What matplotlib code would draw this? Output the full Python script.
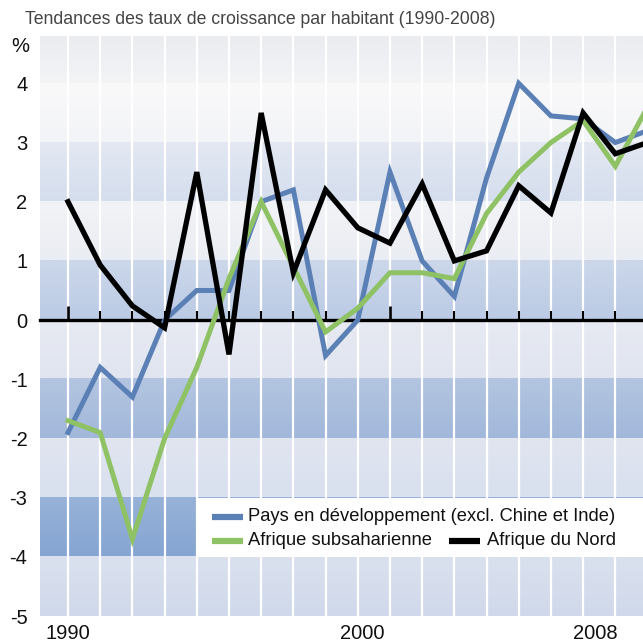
import matplotlib
matplotlib.use('Agg')
import matplotlib.pyplot as plt
import matplotlib.colors as mcolors
import numpy as np

plt.rcParams['font.family'] = ['Liberation Sans', 'DejaVu Sans']

# Data (growth rate per capita, %)
years = list(range(1990, 2009))
developing = [-1.9, -0.8, -1.3, 0.0, 0.5, 0.5, 2.0, 2.2, -0.6, 0.0,
              2.5, 1.0, 0.4, 2.4, 4.0, 3.45, 3.4, 3.0, 3.2]
ssa = [-1.7, -1.9, -3.7, -2.0, -0.8, 0.7, 2.0, 0.9, -0.2, 0.2,
       0.8, 0.8, 0.7, 1.8, 2.5, 3.0, 3.37, 2.6, 3.6]
north_africa = [2.0, 0.93, 0.24, -0.13, 2.5, -0.58, 3.5, 0.8, 2.2, 1.56,
                1.3, 2.3, 1.0, 1.17, 2.27, 1.81, 3.5, 2.81, 3.0]

labels = ['Pays en développement (excl. Chine et Inde)',
          'Afrique subsaharienne', 'Afrique du Nord']
colors = {'dev': '#5b80b6', 'ssa': '#8fc165', 'na': '#000000'}

# background bands (low, high, top colour, bottom colour)
bands = [
    (4, 4.8, '#ebecf0', '#f3f4f6'),
    (3, 4, '#f9f9fa', '#f3f4f7'),
    (2, 3, '#e3e8f2', '#d5deee'),
    (1, 2, '#f2f3f6', '#eaedf3'),
    (0, 1, '#ccd7ea', '#bbcbe5'),
    (-1, 0, '#e7eaf2', '#e1e5f0'),
    (-2, -1, '#b3c5e0', '#a2b8db'),
    (-3, -2, '#e0e5f0', '#d9e0ee'),
    (-4, -3, '#97b2d8', '#85a5d2'),
    (-5, -4, '#dae1ee', '#d0d9eb'),
]

fig = plt.figure(figsize=(6.43, 6.44), dpi=100)
ax = fig.add_axes([40 / 643, 28 / 644, 603 / 643, 580 / 644])
x0, x1 = 1989.13, 2007.86
ax.set_xlim(x0, x1)
ax.set_ylim(-5, 4.8)

for lo, hi, ctop, cbot in bands:
    c1 = np.array(mcolors.to_rgb(ctop))
    c2 = np.array(mcolors.to_rgb(cbot))
    t = np.linspace(0, 1, 32)[:, None]
    grad = (c1 * (1 - t) + c2 * t)[:, None, :]
    ax.imshow(grad, extent=[x0, x1, lo, hi], aspect='auto', origin='upper',
              interpolation='bilinear', zorder=0)

# white vertical gridlines
for yr in years[:-1]:
    ax.axvline(yr, color='white', lw=1.6, zorder=1)

# legend box (white, covers the -3/-4 band from 1994 on)
ax.add_patch(plt.Rectangle((1994, -4), x1 - 1994, 1, facecolor='white',
                           edgecolor='none', zorder=2))

# zero line with ticks
ax.axhline(0, color='black', lw=2.4, zorder=3, clip_on=False)
for yr in years:
    h = 0.24 if yr % 10 == 0 else 0.15
    ax.vlines(yr, 0, h, color='black', lw=1.9 if yr % 10 == 0 else 1.5, zorder=3)

ax.plot(years, developing, color=colors['dev'], lw=3.6, zorder=4,
        solid_joinstyle='miter')
ax.plot(years, ssa, color=colors['ssa'], lw=3.6, zorder=5,
        solid_joinstyle='miter')
ax.plot(years, north_africa, color=colors['na'], lw=3.8, zorder=6,
        solid_joinstyle='miter')

# manual legend
leg_fs = 13.2
ax.plot([1994.47, 1995.43], [-3.32, -3.32], color=colors['dev'], lw=4.5, zorder=7, solid_capstyle='butt')
ax.text(1995.6, -3.32, labels[0], fontsize=leg_fs, va='center', ha='left', zorder=7, color='#111111')
ax.plot([1994.47, 1995.43], [-3.73, -3.73], color=colors['ssa'], lw=4.5, zorder=7, solid_capstyle='butt')
ax.text(1995.6, -3.73, labels[1], fontsize=leg_fs, va='center', ha='left', zorder=7, color='#111111')
ax.plot([2001.83, 2002.8], [-3.73, -3.73], color=colors['na'], lw=4.5, zorder=7, solid_capstyle='butt')
ax.text(2003.0, -3.73, labels[2], fontsize=leg_fs, va='center', ha='left', zorder=7, color='#111111')

# axes styling
for s in ax.spines.values():
    s.set_visible(False)
ax.set_yticks(range(-5, 5))
ax.set_yticklabels([str(v) for v in range(-5, 5)])
ax.set_xticks([1990, 1999.13, 2006.37])
ax.set_xticklabels(['1990', '2000', '2008'])
ax.tick_params(axis='both', length=0, labelsize=14.5, colors='#111111')
ax.tick_params(axis='y', pad=9)
ax.tick_params(axis='x', pad=6)

fig.text(20 / 643, 1 - 47 / 644, '%', fontsize=14.5, ha='center', va='center', color='#111111')
fig.text(25 / 643, 1 - 20 / 644, 'Tendances des taux de croissance par habitant (1990-2008)',
         fontsize=12.7, ha='left', va='center', color='#444444')

fig.savefig('out.png', dpi=100, facecolor='white')
